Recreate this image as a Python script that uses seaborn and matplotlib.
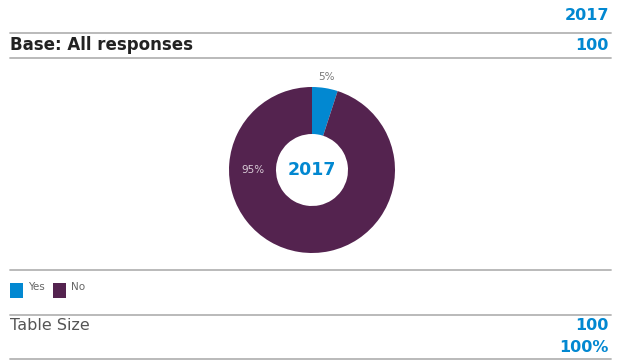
import matplotlib
matplotlib.use("Agg")
import matplotlib.pyplot as plt
import seaborn as sns
import numpy as np

sns.set_theme(style="white")
plt.rcParams['font.family'] = ['DejaVu Sans']

# Data
year_label = "2017"
base_label = "Base: All responses"
base_n = 100
categories = ["Yes", "No"]
shares = [5, 95]
table_size_n = 100
table_size_pct = "100%"

BLUE = "#0288D1"
PURPLE = "#54234F"
DARK = "#222222"
RULE = "#b4b4b4"

W, H = 623, 363
fig = plt.figure(figsize=(W / 100, H / 100), dpi=100)
palette = dict(zip(categories, [BLUE, PURPLE]))


def fx(x):
    return x / W


def fy(y):
    return 1 - y / H


def rule(y):
    fig.add_artist(plt.Line2D([fx(10), fx(611)], [fy(y), fy(y)], color=RULE, lw=1.3))


# Header rows
fig.text(fx(609), fy(16), year_label, color=BLUE, fontsize=11.5, fontweight="bold", ha="right", va="center")
rule(33)
fig.text(fx(10), fy(45), base_label, color=DARK, fontsize=12, fontweight="bold", ha="left", va="center")
fig.text(fx(609), fy(45), str(base_n), color=BLUE, fontsize=11.5, fontweight="bold", ha="right", va="center")
rule(58)

# Donut
cx, cy, r_out, r_in = 312, 170, 83, 36
ax = fig.add_axes([fx(cx - r_out), fy(cy + r_out), (2 * r_out) / W, (2 * r_out) / H])
wedges, _ = ax.pie(shares, colors=[palette[c] for c in categories], startangle=90,
                   counterclock=False, radius=1,
                   wedgeprops=dict(width=(r_out - r_in) / r_out, linewidth=0))
ax.set_xlim(-1, 1)
ax.set_ylim(-1, 1)
ax.set_aspect("auto")
ax.axis("off")

# Percentage labels
mid_yes = np.deg2rad(90 - shares[0] / sum(shares) * 360 / 2)
ax.text(1.14 * np.cos(mid_yes), 1.14 * np.sin(mid_yes), f"{shares[0]}%",
        color="#777777", fontsize=7.5, ha="center", va="center")
ax.text(-0.71, 0.0, f"{shares[1]}%", color="#d8cbd6", fontsize=7.5, ha="center", va="center")
ax.text(0, 0, year_label, color=BLUE, fontsize=12.5, fontweight="bold", ha="center", va="center")

rule(270)

# Legend
for i, (cat, x0) in enumerate(zip(categories, [10, 53])):
    fig.add_artist(plt.Rectangle((fx(x0), fy(298)), 13 / W, 15 / H, color=palette[cat], lw=0))
    fig.text(fx(x0 + 18), fy(287), cat, color="#666666", fontsize=7.5, ha="left", va="center")

rule(315)

# Table size rows
fig.text(fx(10), fy(326), "Table Size", color="#555555", fontsize=11.5, fontweight="normal", ha="left", va="center")
fig.text(fx(609), fy(326), str(table_size_n), color=BLUE, fontsize=11.5, fontweight="bold", ha="right", va="center")
fig.text(fx(609), fy(348), table_size_pct, color=BLUE, fontsize=11.5, fontweight="bold", ha="right", va="center")

rule(359)

fig.savefig("out.png", dpi=100, facecolor="white")
